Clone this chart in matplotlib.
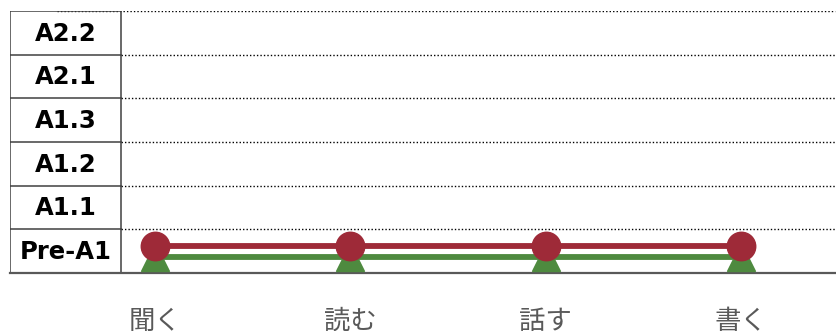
import numpy as np
import matplotlib.pyplot as plt

plt.rcParams['font.family'] = ['Noto Sans CJK JP', 'DejaVu Sans']

# data
skills = ['聞く', '読む', '話す', '書く']
levels = ['Pre-A1', 'A1.1', 'A1.2', 'A1.3', 'A2.1', 'A2.2']
series_red = ['Pre-A1', 'Pre-A1', 'Pre-A1', 'Pre-A1']
series_green = ['Pre-A1', 'Pre-A1', 'Pre-A1', 'Pre-A1']

RED = '#9E2A38'
GREEN = '#4E8A3F'

W, H = 837, 331
fig = plt.figure(figsize=(W / 100, H / 100), dpi=100)
ax = fig.add_axes([10 / W, (H - 273) / H, 827 / W, (273 - 11) / H])

x = np.arange(len(skills))
xl = (10 - 155) / 195.3
xr = (837 - 155) / 195.3
ax.set_xlim(xl, xr)
ax.set_ylim(0, len(levels))

y_red = np.array([levels.index(v) for v in series_red]) + 0.62
y_green = np.array([levels.index(v) for v in series_green]) + 0.37

# series
ax.plot(x, y_green, color=GREEN, lw=4.2, zorder=3)
ax.plot(x, y_green, ls='none', marker='^', ms=20, color=GREEN, zorder=4)
ax.plot(x, y_red, color=RED, lw=4.2, zorder=5)
ax.plot(x, y_red, ls='none', marker='o', ms=20.5, color=RED, zorder=6)

# table of levels on the left
tr = ax.get_yaxis_transform()
col_r = 111 / 827
for i, lv in enumerate(levels):
    ax.text(col_r / 2, i + 0.48, lv, transform=tr, ha='center', va='center',
            fontsize=17.5, fontweight='bold', family='DejaVu Sans', color='black')
for i in range(1, len(levels) + 1):
    ax.plot([0, col_r], [i, i], transform=tr, color='#404040', lw=1.1, zorder=2)
    x0 = 47 / 827 if i == len(levels) else col_r
    ax.plot([x0, 0.998], [i, i], transform=tr, color='black', lw=1,
            ls=(0, (1, 1.5)), zorder=1)
ax.plot([0, 0], [0, len(levels)], transform=tr, color='#404040', lw=1.1)
ax.plot([col_r, col_r], [0, len(levels)], transform=tr, color='#404040', lw=1.1)
ax.plot([0, 1], [0, 0], transform=tr, color='#595959', lw=1.6, clip_on=False)

for s in ax.spines.values():
    s.set_visible(False)
ax.set_yticks([])
ax.set_xticks(x)
ax.set_xticklabels(skills, fontsize=19, color='#595959')
ax.tick_params(axis='x', length=0, pad=25)

fig.savefig('out.png', dpi=100)
